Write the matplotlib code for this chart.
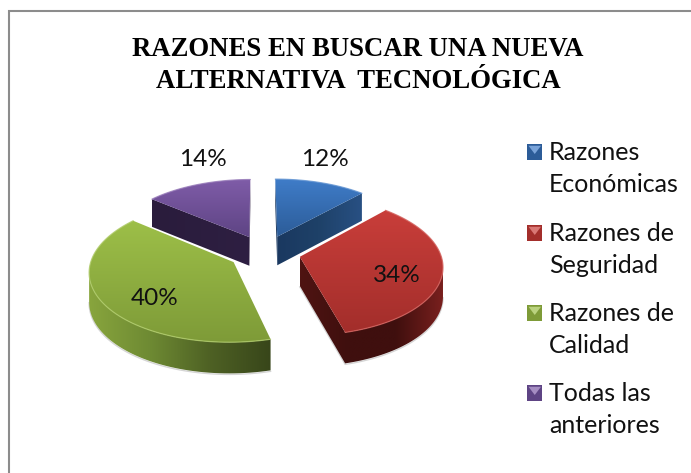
import numpy as np
import matplotlib
matplotlib.use("Agg")
import matplotlib.pyplot as plt
from matplotlib.patches import Polygon, Rectangle
from matplotlib.colors import LinearSegmentedColormap, to_rgb

title_lines = ["RAZONES EN BUSCAR UNA NUEVA", "ALTERNATIVA  TECNOLÓGICA"]
values = [12, 34, 40, 14]
pct_labels = ["12%", "34%", "40%", "14%"]
legend_lines = [["Razones", "Económicas"], ["Razones de", "Seguridad"],
                ["Razones de", "Calidad"], ["Todas las", "anteriores"]]
top_cols = [("#3F7CC8", "#2C5C98"), ("#C93E3A", "#A32E2B"), ("#9DBF48", "#7E9B38"), ("#7F5CA8", "#5E4484")]
wall_cols = [["#1A3860", "#1E4168", "#285083"],
             ["#4F1412", "#3F0F0E", "#3F0F0E", "#7A201E"],
             ["#88A53D", "#6E8A33", "#4E6124", "#38461A"],
             ["#2A1C3C", "#2E1F42"]]

W, H = 691, 473
fig = plt.figure(figsize=(W / 100, H / 100), dpi=100)
ax = fig.add_axes([0, 0, 1, 1])
ax.set_xlim(0, W); ax.set_ylim(H, 0); ax.axis("off")

CX, CY, RX, A, PERSP, EXPL, DEPTH, ROT = 264.5, 252.5, 140.5, 68, 0.12, 0.257, 29, -0.3

def project(X, Y):
    s = 1 / (1 + PERSP * Y)
    return CX + RX * X * s, CY - A * Y * s, DEPTH * s ** 0.5

def mix(c1, c2, t):
    c1, c2 = np.array(to_rgb(c1)), np.array(to_rgb(c2))
    return tuple(c1 + (c2 - c1) * t)

def grad_fill(pts, colors, extent, horizontal, zo):
    cmap = LinearSegmentedColormap.from_list("g", colors)
    ramp = np.linspace(0, 1, 128)
    arr = ramp[None, :] if horizontal else ramp[:, None]
    im = ax.imshow(arr, cmap=cmap, aspect="auto", extent=extent, zorder=zo, interpolation="bilinear")
    patch = Polygon(pts, closed=True, transform=ax.transData, fc="none", ec="none")
    ax.add_patch(patch)
    im.set_clip_path(patch)

def draw_wedge(start, sweep, top, wall, zo):
    mid = np.radians(start + sweep / 2)
    ox, oy = EXPL * np.sin(mid), EXPL * np.cos(mid)
    th = np.radians(np.linspace(start, start + sweep, 80))
    X = np.r_[ox, ox + np.sin(th)]
    Y = np.r_[oy, oy + np.cos(th)]
    px, py, d = project(X, Y)
    n = len(px)
    lo, hi = px.min(), px.max()
    ext = (lo, hi, (py + d).max() + 1, py.min() - 1)
    # group consecutive viewer-facing boundary edges into continuous wall strips
    visible = [(px[(i + 1) % n] - px[i]) < -1e-6 for i in range(n)]
    i = 0
    while i < n:
        if visible[i]:
            j = i
            while j + 1 < n and visible[j + 1] and (j + 1) not in (1,):
                j += 1
            idx = [(k % n) for k in range(i, j + 2)]
            upper = np.c_[px[idx], py[idx]]
            lower = np.c_[px[idx], py[idx] + d[idx]]
            grad_fill(np.r_[upper, lower[::-1]], wall, ext, True, zo)
            if len(idx) > 4:
                ax.plot(lower[:, 0], lower[:, 1] + 1, color="#888888", lw=1.0, alpha=0.35, zorder=zo - 0.1)
            i = j + 1
        else:
            i += 1
    grad_fill(np.c_[px, py], [top[0], top[1]], (lo, hi, py.max(), py.min()), False, zo + 0.1)
    light = mix(top[0], "#ffffff", 0.18)
    ax.plot(px[1:], py[1:], color=light, lw=0.9, alpha=0.8, zorder=zo + 0.2, solid_capstyle="round")
    ax.set_xlim(0, W); ax.set_ylim(H, 0)

angles = np.cumsum([0] + values[:-1]) / sum(values) * 360 + ROT
sweeps = np.array(values) / sum(values) * 360
for order, i in enumerate([3, 0, 2, 1]):
    draw_wedge(angles[i], sweeps[i], top_cols[i], wall_cols[i], 3 + order)

ax.plot([9, 9, W], [H, 11, 11], color="#8c8c8c", lw=1.5, zorder=1, solid_joinstyle="miter")

SERIF = "Liberation Serif"
ax.text(358, 49, title_lines[0], family=SERIF, weight="bold", fontsize=19.3, ha="center", va="center", color="black", zorder=10)
ax.text(358, 81, title_lines[1], family=SERIF, weight="bold", fontsize=19.3, ha="center", va="center", color="black", zorder=10)

FONT = "Lato"
for lab, (x, y) in zip(pct_labels, [(325, 159), (397, 275), (155, 298), (203, 159)]):
    ax.text(x, y, lab, family=FONT, fontsize=17.5, ha="center", va="center", color="#111111", zorder=10)

legend_y = [152, 233, 313, 393]
line_gap = 32
for i, (lines, y0) in enumerate(zip(legend_lines, legend_y)):
    x0, s = 527, 15.5
    y1, y2 = y0 - s / 2, y0 + s / 2
    ax.add_patch(Rectangle((x0, y1), s, s, fc=top_cols[i][1], ec="none", zorder=9))
    ax.add_patch(Polygon([(x0 + 1.5, y1 + 1.5), (x0 + s - 1.5, y1 + 1.5), (x0 + s / 2, y0 + 2)],
                         closed=True, fc=mix(top_cols[i][0], "#ffffff", 0.3), ec="none", zorder=9.5))
    for k, t in enumerate(lines):
        ax.text(549, y0 + 0.5 + k * line_gap, t, family=FONT, fontsize=18, ha="left", va="center", color="#111111", zorder=10)

fig.savefig("out.png", dpi=100)
